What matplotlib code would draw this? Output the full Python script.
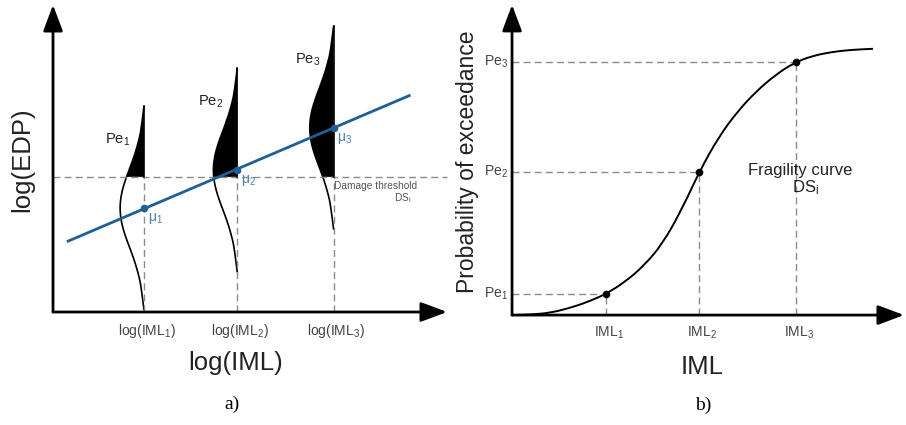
import numpy as np
import matplotlib
matplotlib.use("Agg")
import matplotlib.pyplot as plt
from matplotlib.path import Path
from matplotlib.patches import PathPatch

plt.rcParams['font.family'] = ['Liberation Sans', 'DejaVu Sans']
plt.rcParams['mathtext.fontset'] = 'custom'
plt.rcParams['mathtext.rm'] = 'Liberation Sans'
plt.rcParams['mathtext.it'] = 'Liberation Sans:italic'

# ---- panel a) data (log IML vs log EDP, arbitrary units) ----
log_iml = [0.963, 1.95, 2.97]
mu = [1.10, 1.50, 1.95]
threshold = 1.43
line_x = [0.16, 3.77]
line_y = [0.75, 2.29]
# half-profile of the EDP distribution: offset from mean, width
prof_dy = [0, .085, .17, .254, .339, .423, .508, .593, .677, .762, .847, .952, 1.08]
prof_w = [.254, .249, .234, .211, .182, .150, .119, .090, .066, .044, .030, .016, 0]
iml_labels_a = [r'log(IML$_{\mathrm{1}}$)', r'log(IML$_{\mathrm{2}}$)', r'log(IML$_{\mathrm{3}}$)']
pe_labels = [r'Pe$_{\mathrm{1}}$', r'Pe$_{\mathrm{2}}$', r'Pe$_{\mathrm{3}}$']
mu_labels = [r'μ$_{\mathrm{1}}$', r'μ$_{\mathrm{2}}$', r'μ$_{\mathrm{3}}$']

# ---- panel b) data (fragility curve) ----
curve_x = [0, 0.2, 0.4, 0.6, 0.8, 1.0, 1.2, 1.4, 1.6, 1.8, 2.0,
           2.2, 2.4, 2.6, 2.8, 3.0, 3.2, 3.4, 3.6, 3.84]
curve_y = [0, 0.002, 0.008, 0.025, 0.048, 0.079, 0.123, 0.183, 0.265, 0.39, 0.54,
           0.665, 0.76, 0.835, 0.895, 0.941, 0.967, 0.981, 0.989, 0.993]
iml = [1.0, 1.989, 3.021]
pe = [0.078, 0.534, 0.944]
iml_labels_b = [r'IML$_{\mathrm{1}}$', r'IML$_{\mathrm{2}}$', r'IML$_{\mathrm{3}}$']

blue = '#1f5f94'
grey = '#8a8a8a'
txt = '#444444'

fig = plt.figure(figsize=(9.06, 4.25), dpi=100)
ax1 = fig.add_axes([0, 0, 453 / 906, 1])
ax2 = fig.add_axes([453 / 906, 0, 453 / 906, 1])
for ax in (ax1, ax2):
    ax.set_axis_off()
ax1.set_xlim(-0.561, 4.233)
ax1.set_ylim(-1.196, 3.302)
ax2.set_xlim(-0.628, 4.191)
ax2.set_ylim(-0.410, 1.175)


def axis_arrow(ax, start, end):
    ax.annotate('', xy=end, xytext=start,
                arrowprops=dict(arrowstyle='-|>,head_length=1.6,head_width=0.6',
                                lw=2, color='k', shrinkA=0, shrinkB=0))


def smooth_curve(ax, x, y, **kw):
    # quadratic bezier through midpoints, control points at the read values
    pts = np.column_stack([x, y])
    mids = (pts[:-1] + pts[1:]) / 2
    verts = [pts[0], mids[0]]
    codes = [Path.MOVETO, Path.LINETO]
    for i in range(1, len(pts) - 1):
        verts += [pts[i], mids[i]]
        codes += [Path.CURVE3, Path.CURVE3]
    verts.append(pts[-1])
    codes.append(Path.LINETO)
    ax.add_patch(PathPatch(Path(verts, codes), fill=False, **kw))


dash = dict(color=grey, lw=1, dashes=(5, 3))

# ---- panel a ----
axis_arrow(ax1, (0, 0), (0, 3.25))
axis_arrow(ax1, (0, 0), (4.17, 0))
ax1.plot([0, 4.17], [threshold, threshold], **dash)

dy = np.concatenate([-np.array(prof_dy[::-1]), np.array(prof_dy[1:])])
w = np.concatenate([np.array(prof_w[::-1]), np.array(prof_w[1:])])
for xi, m in zip(log_iml, mu):
    y = m + dy
    smooth_curve(ax1, xi - w, y, color='k', lw=1.2)
    top = m + prof_dy[-1]
    ax1.plot([xi, xi], [threshold, top], color='k', lw=1.2)
    ax1.plot([xi, xi], [0, threshold], **dash)
    mask = y >= threshold
    w_thr = np.interp(threshold - m, dy, w)
    px = np.concatenate([[xi, xi - w_thr], xi - w[mask], [xi]])
    py = np.concatenate([[threshold, threshold], y[mask], [top]])
    ax1.fill(px, py, color='k', lw=0)

ax1.plot(line_x, line_y, color=blue, lw=2)
ax1.plot(log_iml, mu, 'o', color=blue, ms=4.5)

for xi, m, pl, ml, il in zip(log_iml, mu, pe_labels, mu_labels, iml_labels_a):
    ax1.text(xi - 0.28, m + 0.72, pl, fontsize=10.5, color='#222222', ha='center', va='center')
    ax1.text(xi + 0.04, m - 0.11, ml, fontsize=10, color='#4a7fb0', ha='left', va='center')
    ax1.text(xi + 0.03, -0.20, il, fontsize=10, color=txt, ha='center', va='center')

ax1.text(3.41, 1.33, 'Damage threshold', fontsize=7.3, color='#555555', ha='center', va='center')
ax1.text(3.70, 1.21, r'DS$_{\mathrm{i}}$', fontsize=7.3, color='#555555', ha='center', va='center')
ax1.text(1.93, -0.54, 'log(IML)', fontsize=18.5, color='#222222', ha='center', va='center')
ax1.text(-0.33, 1.61, 'log(EDP)', fontsize=18.5, color='#222222', ha='center', va='center',
         rotation=90)
ax1.text(1.89, -0.98, 'a)', fontsize=14, family='Liberation Serif', ha='center', va='center')

# ---- panel b ----
axis_arrow(ax2, (0, 0), (0, 1.157))
axis_arrow(ax2, (0, 0), (4.17, 0))
for xi, p in zip(iml, pe):
    ax2.plot([0, xi], [p, p], **dash)
    ax2.plot([xi, xi], [0, p], **dash)
smooth_curve(ax2, curve_x, curve_y, color='k', lw=1.4)
ax2.plot(iml, pe, 'o', color='k', ms=4.5)

for xi, p, pl, il in zip(iml, pe, pe_labels, iml_labels_b):
    ax2.text(-0.045, p, pl, fontsize=10, color=txt, ha='right', va='center')
    ax2.text(xi + 0.03, -0.067, il, fontsize=10, color=txt, ha='center', va='center')

ax2.text(3.07, 0.54, 'Fragility curve', fontsize=12, color='#222222', ha='center', va='center')
ax2.text(3.12, 0.474, r'DS$_{\mathrm{i}}$', fontsize=12, color='#222222', ha='center', va='center')
ax2.text(2.02, -0.194, 'IML', fontsize=18.5, color='#222222', ha='center', va='center')
ax2.text(-0.47, 0.571, 'Probability of exceedance', fontsize=16.5, color='#222222',
         ha='center', va='center', rotation=90)
ax2.text(2.03, -0.336, 'b)', fontsize=14, family='Liberation Serif', ha='center', va='center')

fig.savefig('out.png', dpi=100)
